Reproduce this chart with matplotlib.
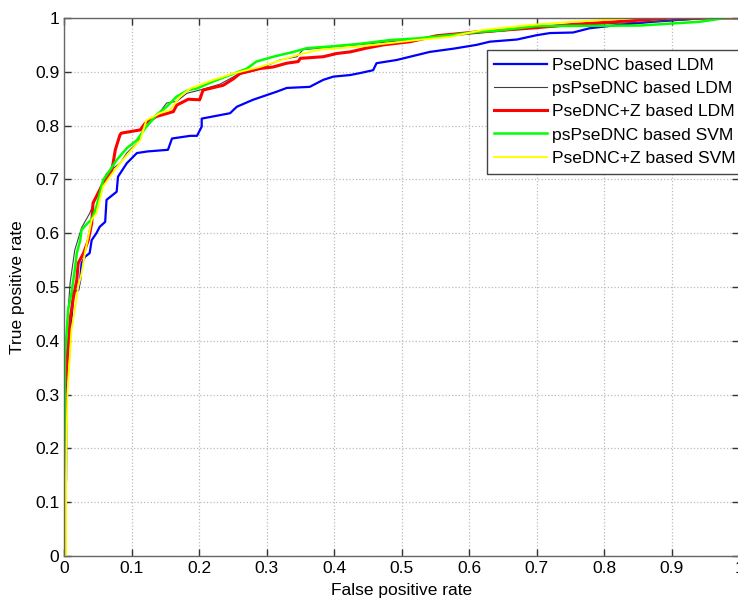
import matplotlib
matplotlib.use('Agg')
import matplotlib.pyplot as plt

plt.rcParams['font.family'] = ['Liberation Sans', 'DejaVu Sans']

# ROC points (false positive rate, true positive rate)
pse_ldm_fpr = [0, 0.002, 0.002, 0.003, 0.004, 0.009, 0.011, 0.014, 0.021, 0.024, 0.026, 0.031,
               0.038, 0.041, 0.048, 0.053, 0.061, 0.063, 0.078, 0.08, 0.093, 0.108, 0.124,
               0.154, 0.16, 0.187, 0.197, 0.204, 0.204, 0.246, 0.256, 0.28, 0.315, 0.33,
               0.364, 0.384, 0.399, 0.424, 0.44, 0.458, 0.463, 0.493, 0.542, 0.577, 0.611,
               0.631, 0.671, 0.70, 0.72, 0.754, 0.779, 0.828, 0.873, 0.95, 1.0]
pse_ldm_tpr = [0, 0, 0.12, 0.14, 0.377, 0.42, 0.439, 0.491, 0.494, 0.513, 0.544, 0.556,
               0.563, 0.587, 0.60, 0.612, 0.621, 0.662, 0.677, 0.705, 0.730, 0.749, 0.752,
               0.755, 0.776, 0.781, 0.781, 0.798, 0.813, 0.823, 0.835, 0.848, 0.863, 0.87,
               0.872, 0.885, 0.891, 0.894, 0.898, 0.903, 0.916, 0.922, 0.937, 0.943, 0.950,
               0.956, 0.960, 0.968, 0.972, 0.973, 0.981, 0.988, 0.993, 1.0, 1.0]

pspse_ldm_fpr = [0, 0.001, 0.003, 0.009, 0.016, 0.026, 0.038, 0.048, 0.063, 0.083, 0.093,
                 0.11, 0.117, 0.137, 0.152, 0.167, 0.182, 0.201, 0.231, 0.256, 0.285, 0.32,
                 0.345, 0.354, 0.394, 0.45, 0.52, 0.6, 0.7, 0.8, 0.9, 0.97, 1.0]
pspse_ldm_tpr = [0, 0.3, 0.4, 0.507, 0.569, 0.610, 0.637, 0.668, 0.711, 0.730, 0.749,
                 0.770, 0.792, 0.817, 0.842, 0.845, 0.860, 0.866, 0.877, 0.894, 0.903, 0.922,
                 0.928, 0.941, 0.946, 0.952, 0.960, 0.970, 0.982, 0.989, 0.995, 1.0, 1.0]

psez_ldm_fpr = [0, 0.0015, 0.004, 0.006, 0.009, 0.014, 0.019, 0.021, 0.029, 0.036, 0.041,
                0.043, 0.058, 0.071, 0.076, 0.083, 0.085, 0.113, 0.12, 0.137, 0.162, 0.167,
                0.184, 0.201, 0.206, 0.236, 0.251, 0.261, 0.29, 0.31, 0.33, 0.347, 0.35,
                0.384, 0.404, 0.424, 0.448, 0.473, 0.513, 0.552, 0.611, 0.646, 0.70, 0.754,
                0.828, 0.9, 1.0]
psez_ldm_tpr = [0, 0.315, 0.346, 0.383, 0.439, 0.482, 0.513, 0.544, 0.563, 0.587, 0.618,
                0.656, 0.693, 0.717, 0.755, 0.783, 0.786, 0.792, 0.804, 0.817, 0.826, 0.838,
                0.849, 0.848, 0.866, 0.875, 0.887, 0.897, 0.906, 0.909, 0.916, 0.919, 0.925,
                0.928, 0.934, 0.937, 0.944, 0.950, 0.956, 0.967, 0.974, 0.977, 0.982, 0.988,
                0.994, 1.0, 1.0]

pspse_svm_fpr = [0, 0.0015, 0.004, 0.006, 0.011, 0.016, 0.019, 0.024, 0.026, 0.036, 0.041,
                 0.048, 0.058, 0.068, 0.078, 0.093, 0.108, 0.122, 0.137, 0.152, 0.167, 0.184,
                 0.197, 0.221, 0.246, 0.271, 0.285, 0.31, 0.34, 0.36, 0.394, 0.438, 0.483,
                 0.522, 0.572, 0.611, 0.646, 0.70, 0.853, 0.942, 0.98, 1.0]
pspse_svm_tpr = [0, 0.37, 0.414, 0.457, 0.488, 0.532, 0.563, 0.587, 0.606, 0.620, 0.625,
                 0.649, 0.699, 0.717, 0.736, 0.758, 0.773, 0.798, 0.820, 0.835, 0.854, 0.866,
                 0.869, 0.882, 0.894, 0.906, 0.919, 0.928, 0.937, 0.944, 0.947, 0.952, 0.959,
                 0.962, 0.968, 0.974, 0.977, 0.985, 0.986, 0.993, 1.0, 1.0]

psez_svm_fpr = [0, 0.003, 0.003, 0.005, 0.006, 0.009, 0.011, 0.016, 0.021, 0.026, 0.031,
                0.036, 0.041, 0.048, 0.058, 0.068, 0.083, 0.098, 0.113, 0.122, 0.142, 0.157,
                0.172, 0.187, 0.221, 0.251, 0.29, 0.315, 0.345, 0.379, 0.438, 0.522, 0.572,
                0.621, 0.69, 0.754, 0.85, 1.0]
psez_svm_tpr = [0, 0, 0.14, 0.3, 0.321, 0.377, 0.42, 0.457, 0.50, 0.525, 0.563,
                0.594, 0.625, 0.637, 0.687, 0.705, 0.730, 0.752, 0.773, 0.810, 0.823, 0.829,
                0.854, 0.869, 0.885, 0.897, 0.909, 0.919, 0.931, 0.941, 0.947, 0.959, 0.965,
                0.978, 0.987, 0.993, 1.0, 1.0]

ticks = [0, 0.1, 0.2, 0.3, 0.4, 0.5, 0.6, 0.7, 0.8, 0.9, 1]
tick_labels = ['0', '0.1', '0.2', '0.3', '0.4', '0.5', '0.6', '0.7', '0.8', '0.9', '1']

fig = plt.figure(figsize=(7.38, 6.0), dpi=100)
ax = fig.add_axes([64 / 738, 44 / 600, 675 / 738, 538 / 600])

ax.plot(pse_ldm_fpr, pse_ldm_tpr, color='#0000ff', lw=1.6, label='PseDNC based LDM')
ax.plot(pspse_ldm_fpr, pspse_ldm_tpr, color='#404040', lw=0.8, label='psPseDNC based LDM')
ax.plot(psez_ldm_fpr, psez_ldm_tpr, color='#ff0000', lw=2.2, label='PseDNC+Z based LDM')
ax.plot(pspse_svm_fpr, pspse_svm_tpr, color='#00ff00', lw=1.8, label='psPseDNC based SVM')
ax.plot(psez_svm_fpr, psez_svm_tpr, color='#ffff00', lw=1.4, label='PseDNC+Z based SVM')

ax.set_xlim(0, 1)
ax.set_ylim(0, 1)
ax.set_xticks(ticks)
ax.set_xticklabels(tick_labels)
ax.set_yticks(ticks)
ax.set_yticklabels(tick_labels)
ax.tick_params(direction='in', length=5, width=1, colors='#333333', labelsize=12.5,
               top=True, right=True, labelcolor='black')
ax.grid(True, color='#bbbbbb', linestyle=':', lw=0.9)
for s in ax.spines.values():
    s.set_color('#666666')
    s.set_linewidth(1.0)

ax.set_xlabel('False positive rate', fontsize=12.5, labelpad=5)
ax.set_ylabel('True positive rate', fontsize=12.5, labelpad=7)

leg = ax.legend(loc='upper left', bbox_to_anchor=(0.626, 0.9405), fontsize=12.6,
                frameon=True, fancybox=False, framealpha=1, edgecolor='#444444',
                handlelength=3.0, handletextpad=0.3, labelspacing=0.45,
                borderpad=0.45, borderaxespad=0)
leg.get_frame().set_linewidth(1.0)

plt.savefig('out.png', dpi=100)
